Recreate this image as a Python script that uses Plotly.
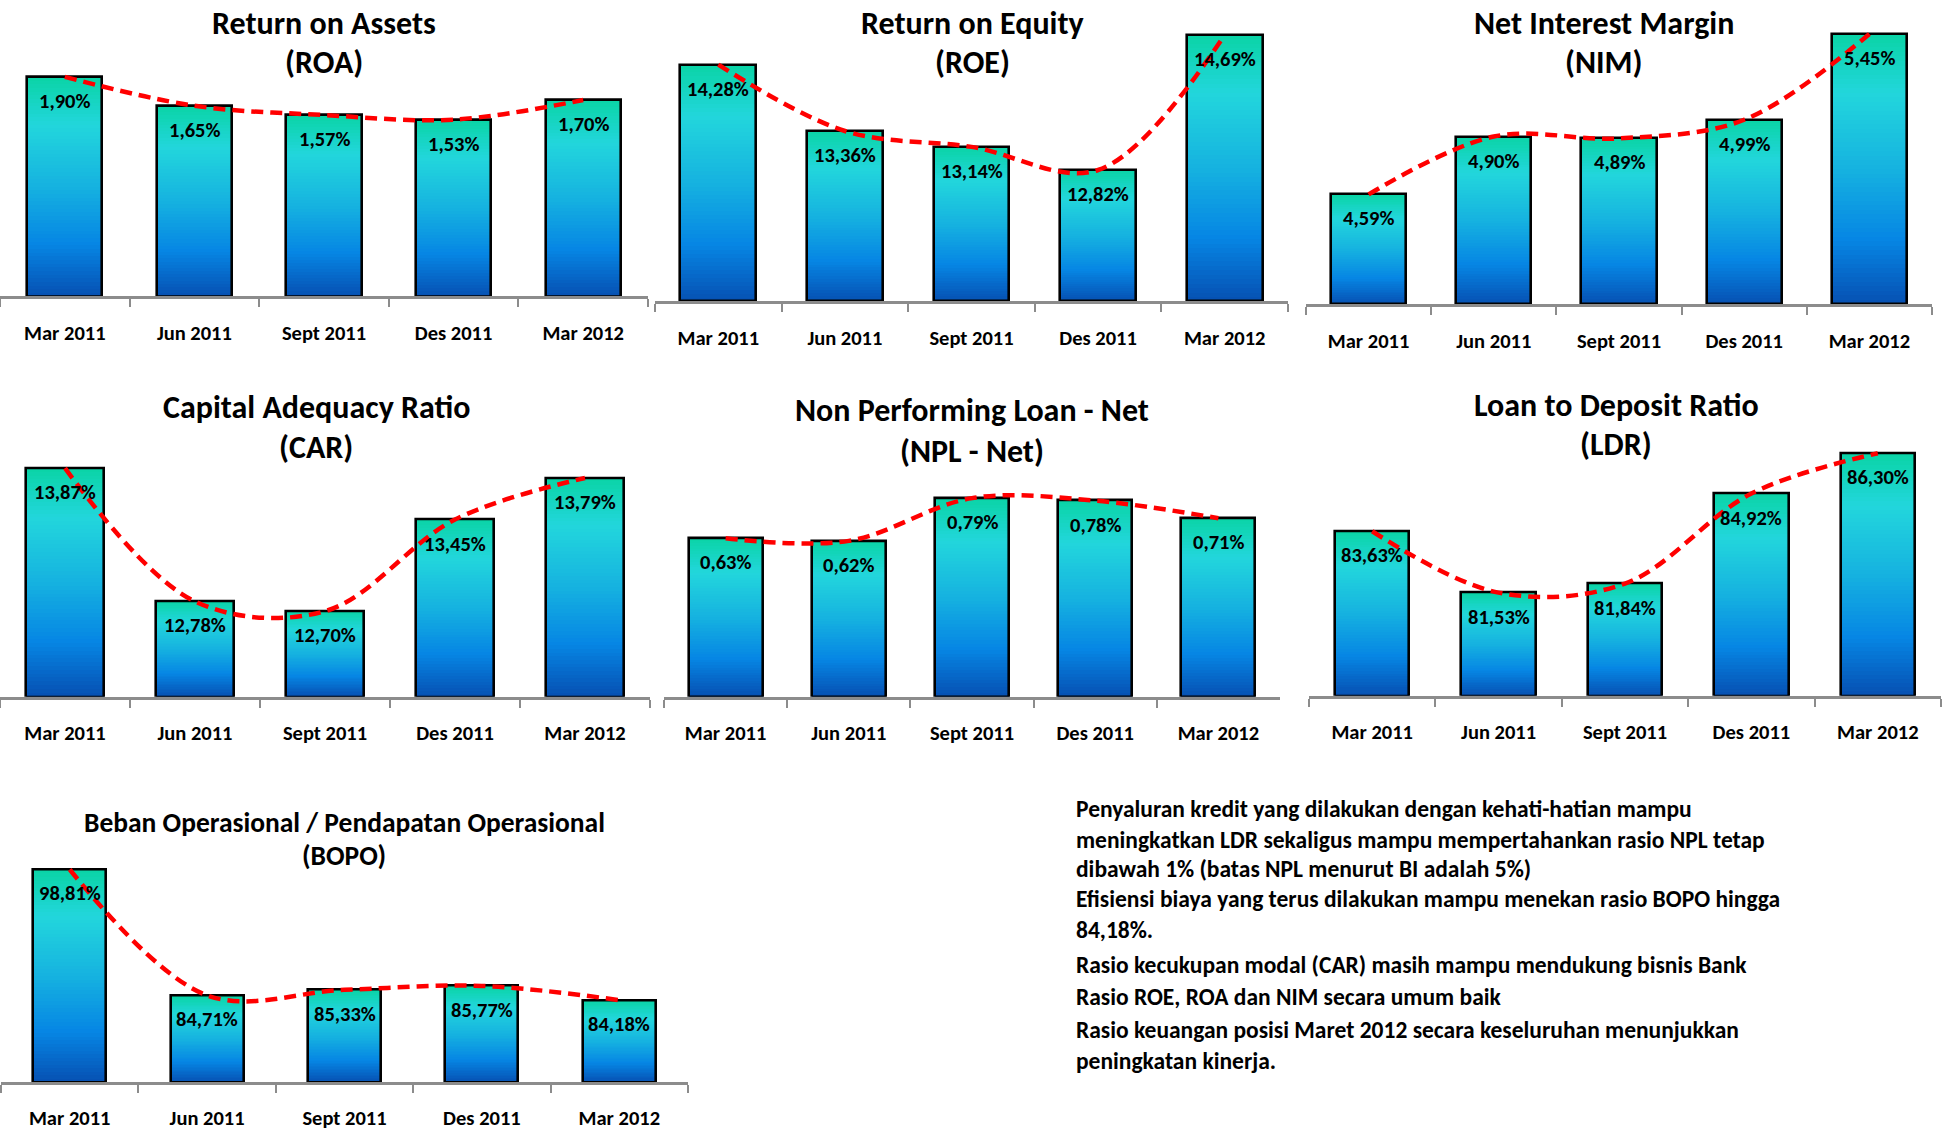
import numpy as np
import plotly.graph_objects as go

# ---- data -------------------------------------------------------------
periods = ["Mar 2011", "Jun 2011", "Sept 2011", "Des 2011", "Mar 2012"]

roa = [1.90, 1.65, 1.57, 1.53, 1.70]
roe = [14.28, 13.36, 13.14, 12.82, 14.69]
nim = [4.59, 4.90, 4.89, 4.99, 5.45]
car = [13.87, 12.78, 12.70, 13.45, 13.79]
npl_net = [0.63, 0.62, 0.79, 0.78, 0.71]
ldr = [83.63, 81.53, 81.84, 84.92, 86.30]
bopo = [98.81, 84.71, 85.33, 85.77, 84.18]

title_roa = ["Return on Assets", "(ROA)"]
title_roe = ["Return on Equity", "(ROE)"]
title_nim = ["Net Interest Margin", "(NIM)"]
title_car = ["Capital Adequacy Ratio", "(CAR)"]
title_npl = ["Non Performing Loan - Net", "(NPL - Net)"]
title_ldr = ["Loan to Deposit Ratio", "(LDR)"]
title_bopo = ["Beban Operasional / Pendapatan Operasional", "(BOPO)"]

notes = [
    "Penyaluran kredit yang dilakukan dengan kehati-hatian mampu",
    "meningkatkan LDR sekaligus mampu mempertahankan rasio NPL tetap",
    "dibawah 1% (batas NPL menurut BI adalah 5%)",
    "Efisiensi biaya yang terus dilakukan mampu menekan rasio BOPO hingga",
    "84,18%.",
    "Rasio kecukupan modal (CAR) masih mampu mendukung bisnis Bank",
    "Rasio ROE, ROA dan NIM secara umum baik",
    "Rasio keuangan posisi Maret 2012 secara keseluruhan menunjukkan",
    "peningkatan kinerja.",
]

# ---- page geometry (pixels) --------------------------------------------
W, H = 1951, 1131
FONT = "Carlito, Lato, 'Open Sans', sans-serif"

# x0, x1: axis extent; base: axis line; top: top of tallest bar;
# ymin: value at the axis line; bw: bar width (category units)
# tx, ty1, ty2: title centre x and line centres; tsize: title font size
panels = [
    dict(vals=roa, title=title_roa, x0=0, x1=648, base=297, top=77, ymin=0.0, bw=0.58,
         tx=324, ty1=24, ty2=63, tsize=32),
    dict(vals=roe, title=title_roe, x0=655, x1=1288, base=302, top=35, ymin=11.0, bw=0.6,
         tx=972, ty1=24, ty2=63, tsize=32),
    dict(vals=nim, title=title_nim, x0=1306, x1=1932, base=305, top=34, ymin=4.0, bw=0.6,
         tx=1604, ty1=24, ty2=63, tsize=32),
    dict(vals=car, title=title_car, x0=0, x1=650, base=698, top=469, ymin=12.0, bw=0.6,
         tx=316, ty1=408, ty2=448, tsize=32),
    dict(vals=npl_net, title=title_npl, x0=664, x1=1280, base=698, top=499, ymin=0.0, bw=0.6,
         tx=972, ty1=411, ty2=452, tsize=32),
    dict(vals=ldr, title=title_ldr, x0=1309, x1=1941, base=697, top=454, ymin=78.0, bw=0.59,
         tx=1616, ty1=406, ty2=445, tsize=32),
    dict(vals=bopo, title=title_bopo, x0=1, x1=688, base=1084, top=871, ymin=75.0, bw=0.53,
         tx=344, ty1=824, ty2=857, tsize=27.5),
]

# vertical gradient of the bars, from top (0) to bottom (1)
grad_pos = [0.0, 0.22, 0.5, 0.76, 1.0]
grad_rgb = np.array([
    [10, 212, 166],
    [34, 214, 220],
    [22, 178, 224],
    [6, 134, 228],
    [6, 80, 178],
], dtype=float)


def grad_color(t):
    rgb = [np.interp(t, grad_pos, grad_rgb[:, c]) for c in range(3)]
    return "rgb({:.0f},{:.0f},{:.0f})".format(*rgb)


N_SEG = 60
PAD_PX = 32

fig = go.Figure()
annotations = []
layout_axes = {}

for i, p in enumerate(panels, start=1):
    vals = p["vals"]
    ymin = p["ymin"]
    vmax = max(vals)
    slope = (p["base"] - p["top"]) / (vmax - ymin)
    ymax = vmax + PAD_PX / slope
    xa, ya = f"x{i}", f"y{i}"

    heights = [v - ymin for v in vals]
    # gradient: stack of thin bar slices, bottom to top
    for k in range(N_SEG):
        t = 1 - (k + 0.5) / N_SEG
        kk = min(k + 1.6, N_SEG)
        fig.add_trace(go.Bar(
            x=periods,
            y=[h * (kk - k) / N_SEG for h in heights],
            base=[ymin + h * k / N_SEG for h in heights],
            width=p["bw"],
            marker=dict(color=grad_color(t), line=dict(width=0)),
            xaxis=xa, yaxis=ya, showlegend=False, hoverinfo="skip",
        ))
    # black outline of each bar
    fig.add_trace(go.Bar(
        x=periods, y=heights, base=[ymin] * len(vals), width=p["bw"],
        marker=dict(color="rgba(0,0,0,0)", line=dict(color="#000000", width=2.6)),
        xaxis=xa, yaxis=ya, showlegend=False, hoverinfo="skip",
    ))
    # smoothed dashed trend line
    fig.add_trace(go.Scatter(
        x=periods, y=vals, mode="lines",
        line=dict(color="#ff0000", width=4.5, dash="12px,7px", shape="spline", smoothing=1.0),
        xaxis=xa, yaxis=ya, showlegend=False, hoverinfo="skip",
    ))
    # value labels inside the bar tops
    for cat, v in zip(periods, vals):
        annotations.append(dict(
            x=cat, y=v, xref=xa, yref=ya, yshift=-24,
            text="<b>" + f"{v:.2f}%".replace(".", ",") + "</b>",
            showarrow=False, xanchor="center", yanchor="middle",
            font=dict(family=FONT, size=20.5, color="#000000"),
        ))
    # two-line panel title
    for line, ty in zip(p["title"], (p["ty1"], p["ty2"])):
        annotations.append(dict(
            x=p["tx"] / W, y=1 - ty / H, xref="paper", yref="paper",
            text="<b>" + line + "</b>", showarrow=False,
            xanchor="center", yanchor="middle",
            font=dict(family=FONT, size=p["tsize"], color="#000000"),
        ))

    suffix = "" if i == 1 else str(i)
    layout_axes["xaxis" + suffix] = dict(
        domain=[p["x0"] / W, p["x1"] / W], anchor=ya,
        type="category", range=[-0.5, len(periods) - 0.5],
        showline=True, linecolor="#8c8c8c", linewidth=2.5,
        ticks="outside", tickson="boundaries", ticklen=8, tickwidth=2, tickcolor="#8c8c8c",
        ticklabelstandoff=16,
        tickfont=dict(family=FONT, size=20.5, color="#000000", weight="bold"),
        showgrid=False, zeroline=False, fixedrange=True,
    )
    layout_axes["yaxis" + suffix] = dict(
        domain=[1 - p["base"] / H, 1 - (p["top"] - PAD_PX) / H], anchor=xa,
        range=[ymin, ymax], visible=False, showgrid=False, zeroline=False, fixedrange=True,
    )

# commentary block
note_y = [810, 841, 871, 901, 932, 967, 999, 1032, 1063]
for line, ny in zip(notes, note_y):
    annotations.append(dict(
        x=1074 / W, y=1 - ny / H, xref="paper", yref="paper",
        text="<b>" + line + "</b>", showarrow=False,
        xanchor="left", yanchor="middle",
        font=dict(family=FONT, size=23.5, color="#000000"),
    ))

fig.update_layout(
    width=W, height=H,
    margin=dict(l=0, r=0, t=0, b=0),
    paper_bgcolor="#ffffff", plot_bgcolor="rgba(0,0,0,0)",
    barmode="overlay", bargap=0,
    showlegend=False,
    annotations=annotations,
    font=dict(family=FONT),
    **layout_axes,
)

fig.write_html("out.html", include_plotlyjs=True, config={"displayModeBar": False})
